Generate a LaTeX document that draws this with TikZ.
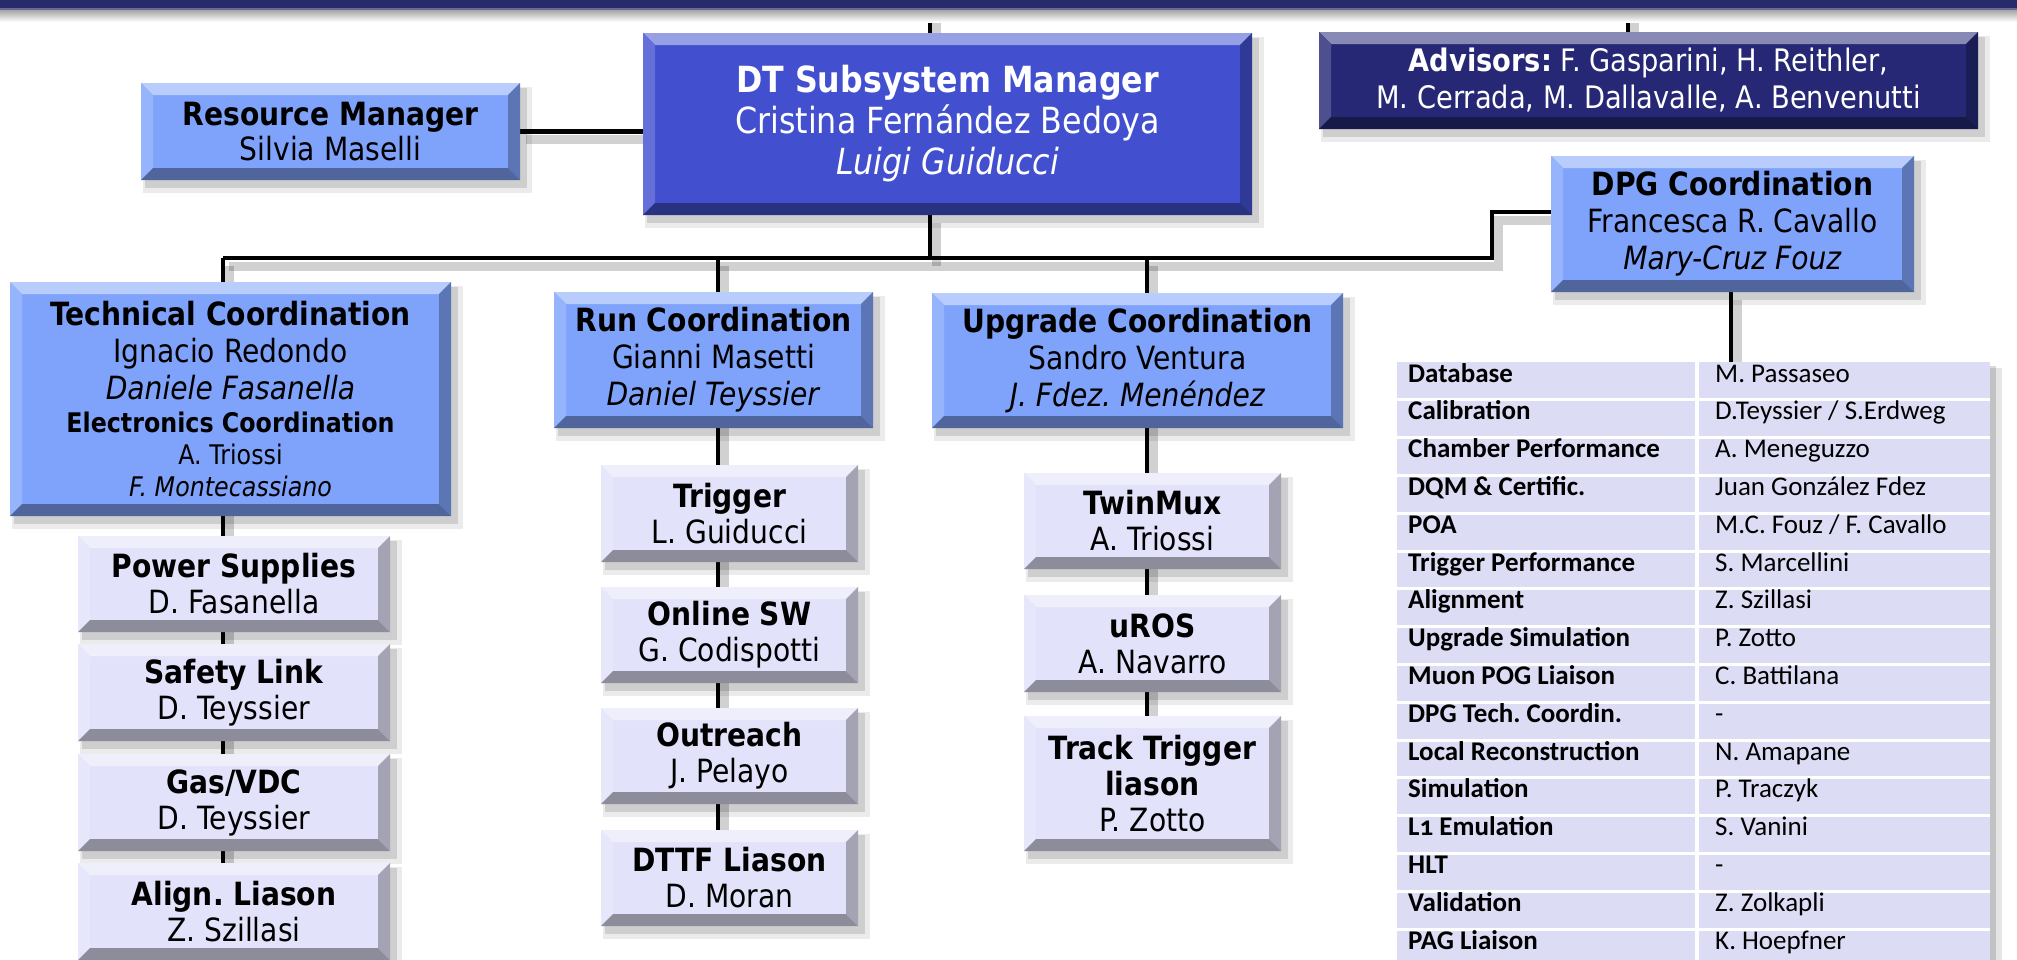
\documentclass[tikz,border=0pt]{standalone}
\usepackage{fontspec}
\setmainfont{DejaVu Sans}[FakeStretch=0.88]
\newfontfamily\tabfont{Carlito}
\pgfdeclarelayer{connlayer}
\pgfsetlayers{connlayer,main}
\definecolor{barnavy}{RGB}{40,42,105}
\definecolor{dtblue}{RGB}{66,80,208}
\definecolor{advnavy}{RGB}{38,40,118}
\definecolor{lblue}{RGB}{127,163,250}
\definecolor{lav}{RGB}{226,226,250}
\definecolor{tabbg}{RGB}{220,220,244}
\newcommand\fsz[2]{\fontsize{#1pt}{#2pt}\selectfont}
\tikzset{
  boxn/.style={inner sep=0pt, outer sep=0pt, align=center, draw=none},
  conn/.style={line width=4.5pt, draw=black,
    preaction={draw=black, draw opacity=0.18, line width=9pt, transform canvas={xshift=6pt,yshift=-8pt}}},
  cellt/.style={anchor=base west, inner sep=0pt, font=\tabfont\fsz{27}{32}},
  cellb/.style={anchor=base west, inner sep=0pt, font=\tabfont\bfseries\fsz{27}{32}},
}
\newcommand\bevel[2]{%
  \def\bvw{12}%
  \fill[#2!55!white] (#1.north west) -- (#1.north east) -- ([shift={(-\bvw,\bvw)}]#1.north east) -- ([shift={(\bvw,\bvw)}]#1.north west) -- cycle;
  \fill[#2!82!white] (#1.north west) -- ([shift={(\bvw,\bvw)}]#1.north west) -- ([shift={(\bvw,-\bvw)}]#1.south west) -- (#1.south west) -- cycle;
  \fill[#2!72!black] (#1.north east) -- ([shift={(-\bvw,\bvw)}]#1.north east) -- ([shift={(-\bvw,-\bvw)}]#1.south east) -- (#1.south east) -- cycle;
  \fill[#2!62!black] (#1.south west) -- ([shift={(\bvw,-\bvw)}]#1.south west) -- ([shift={(-\bvw,-\bvw)}]#1.south east) -- (#1.south east) -- cycle;}
% name, options, x1, y1, x2, y2, colour, text
\newcommand\bbox[8]{%
  \fill[black, opacity=0.08] (#3+2,#4+4) rectangle (#5+12,#6+13);
  \fill[black, opacity=0.12] (#3+4,#4+5) rectangle (#5+7,#6+8);
  \node[boxn, fill=#7, minimum width={#5-#3}, minimum height={#6-#4}, #2] (#1) at ({(#3+#5)/2},{(#4+#6)/2}) {#8};
  \bevel{#1}{#7}}
\newcommand\trow[3]{%
  \node[cellb] (lab#1) at (1408,{362+(#1-1)*37.8+20}) {#2};
  \node[cellt] (nam#1) at (1715,{362+(#1-1)*37.8+20}) {#3};}

\begin{document}
\frenchspacing
\begin{tikzpicture}[x=1pt,y=-1pt]
\useasboundingbox (0,0) rectangle (2017,959);
\clip (0,0) rectangle (2017,959);

% top bar
\shade[top color=black!35, bottom color=white] (0,10) rectangle (2017,22);
\fill[barnavy] (0,0) rectangle (2017,10);
\fill[barnavy!70!white] (0,8) rectangle (2017,10);

% junction coordinates
\coordinate (cTop) at (930,10);
\coordinate (aTop) at (1628,10);
\coordinate (jL) at (223,258);
\coordinate (jD) at (930,258);
\coordinate (jRun) at (718,258);
\coordinate (jUp) at (1147,258);
\coordinate (jR) at (1492,258);
\coordinate (cD) at (1731,300);

% boxes
\bbox{dt}{text=white, font=\fsz{36}{41}}{643}{33}{1252}{215}{dtblue}{{\bfseries DT Subsystem Manager}\\Cristina Fernández Bedoya\\\textit{Luigi Guiducci}}
\bbox{adv}{text=white, font=\fsz{31}{37}}{1319}{32}{1978}{129}{advnavy}{{\bfseries Advisors:} F. Gasparini, H. Reithler,\\M. Cerrada, M. Dallavalle, A. Benvenutti}
\bbox{rm}{font=\fsz{32}{35}}{141}{83}{520}{180}{lblue}{{\bfseries Resource Manager}\\Silvia Maselli}
\bbox{tech}{font=\fsz{32}{37}}{10}{282}{451}{516}{lblue}{{\bfseries Technical Coordination}\\Ignacio Redondo\\\textit{Daniele Fasanella}\\[-4pt]{\fsz{27}{32}\bfseries Electronics Coordination}\\[-5pt]{\fsz{27}{32}A. Triossi}\\[-5pt]{\fsz{27}{32}\itshape F. Montecassiano}}
\bbox{run}{font=\fsz{32}{37}}{554}{292}{873}{428}{lblue}{{\bfseries Run Coordination}\\Gianni Masetti\\\textit{Daniel Teyssier}}
\bbox{upg}{font=\fsz{32}{37}}{932}{293}{1343}{428}{lblue}{{\bfseries Upgrade Coordination}\\Sandro Ventura\\\textit{J. Fdez. Menéndez}}
\bbox{dpg}{font=\fsz{32}{37}}{1551}{156}{1914}{292}{lblue}{{\bfseries DPG Coordination}\\Francesca R. Cavallo\\\textit{Mary-Cruz Fouz}}

\bbox{ps}{font=\fsz{32}{36}}{78}{536}{390}{632}{lav}{{\bfseries Power Supplies}\\D. Fasanella}
\bbox{sl}{font=\fsz{32}{36}}{78}{644}{390}{741}{lav}{{\bfseries Safety Link}\\D. Teyssier}
\bbox{gas}{font=\fsz{32}{36}}{78}{754}{390}{851}{lav}{{\bfseries Gas/VDC}\\D. Teyssier}
\bbox{al}{font=\fsz{32}{36}}{78}{863}{390}{960}{lav}{{\bfseries Align. Liason}\\Z. Szillasi}

\bbox{trig}{font=\fsz{32}{36}}{601}{465}{858}{562}{lav}{{\bfseries Trigger}\\L. Guiducci}
\bbox{osw}{font=\fsz{32}{36}}{601}{587}{858}{683}{lav}{{\bfseries Online SW}\\G. Codispotti}
\bbox{outr}{font=\fsz{32}{36}}{601}{708}{858}{804}{lav}{{\bfseries Outreach}\\J. Pelayo}
\bbox{dttf}{font=\fsz{32}{36}}{601}{830}{858}{926}{lav}{{\bfseries DTTF Liason}\\D. Moran}

\bbox{twin}{font=\fsz{32}{36}}{1024}{473}{1281}{569}{lav}{{\bfseries TwinMux}\\A. Triossi}
\bbox{uros}{font=\fsz{32}{36}}{1024}{595}{1281}{692}{lav}{{\bfseries uROS}\\A. Navarro}
\bbox{track}{font=\fsz{32}{36}}{1024}{716}{1281}{851}{lav}{{\bfseries Track Trigger}\\{\bfseries liason}\\P. Zotto}

% table
\fill[black, opacity=0.10] (1990,368) rectangle (2002,965);
\fill[black, opacity=0.15] (1990,366) rectangle (1996,965);
\node[inner sep=0pt, outer sep=0pt, minimum width=593, minimum height=610, fill=tabbg, anchor=north west] (tbl) at (1397,362) {};
\draw[white, line width=4pt] (1697,362) -- (1697,975);
\foreach \i in {1,...,15} \draw[white, line width=3pt] (1397,{362+\i*37.8}) -- (1990,{362+\i*37.8});
\trow{1}{Database}{M. Passaseo}
\trow{2}{Calibration}{D.Teyssier / S.Erdweg}
\trow{3}{Chamber Performance}{A. Meneguzzo}
\trow{4}{DQM \& Certific.}{Juan González Fdez}
\trow{5}{POA}{M.C. Fouz / F. Cavallo}
\trow{6}{Trigger Performance}{S. Marcellini}
\trow{7}{Alignment}{Z. Szillasi}
\trow{8}{Upgrade Simulation}{P. Zotto}
\trow{9}{Muon POG Liaison}{C. Battilana}
\trow{10}{DPG Tech. Coordin.}{-}
\trow{11}{Local Reconstruction}{N. Amapane}
\trow{12}{Simulation}{P. Traczyk}
\trow{13}{L{\addfontfeatures{Numbers=OldStyle}1} Emulation}{S. Vanini}
\trow{14}{HLT}{-}
\trow{15}{Validation}{Z. Zolkapli}
\trow{16}{PAG Liaison}{K. Hoepfner}

% connectors
\begin{pgfonlayer}{connlayer}
\fill[white] (0,0) rectangle (2017,959);
\draw[conn] (cTop) -- (cTop |- dt.north);
\draw[conn] (aTop) -- (aTop |- adv.north);
\draw[conn] (rm.east) -- (rm.east -| dt.west);
\draw[conn] (dt.south -| jD) -- (jD);
\draw[conn] (jL) -- (jR) |- ([yshift=12pt]dpg.west);
\draw[conn] (jL) -- (jL |- al.north);
\draw[conn] (jRun) -- (jRun |- dttf.north);
\draw[conn] (jUp) -- (jUp |- track.north);
\draw[conn] (dpg.south -| cD) -- (cD |- tbl.north);
\end{pgfonlayer}
\end{tikzpicture}
\end{document}
